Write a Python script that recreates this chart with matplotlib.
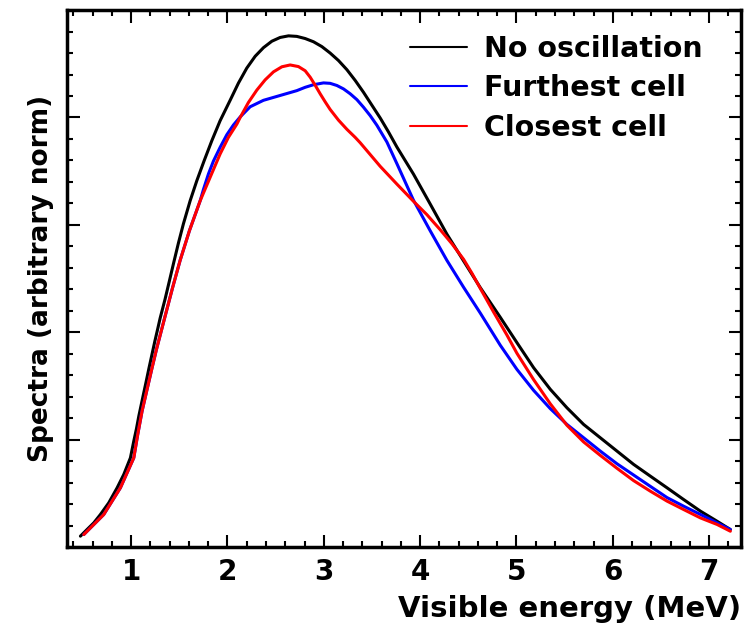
import matplotlib
matplotlib.use("Agg")
import matplotlib.pyplot as plt
from matplotlib.ticker import MultipleLocator

# energies (MeV) and spectra (arbitrary units)
x_black = [0.474, 0.543, 0.613, 0.681, 0.768, 0.855, 0.924, 0.993, 1.028, 1.055,
           1.080, 1.125, 1.156, 1.184, 1.218, 1.246, 1.277, 1.301, 1.353, 1.398,
           1.440, 1.491, 1.543, 1.613, 1.682, 1.758, 1.838, 1.924, 2.028, 2.114,
           2.201, 2.288, 2.374, 2.461, 2.547, 2.634, 2.720, 2.807, 2.893, 2.980,
           3.066, 3.153, 3.240, 3.326, 3.412, 3.499, 3.586, 3.672, 3.759, 3.931,
           4.105, 4.278, 4.451, 4.624, 4.832, 5.005, 5.178, 5.351, 5.524, 5.697,
           5.870, 6.043, 6.216, 6.389, 6.563, 6.735, 6.909, 7.082, 7.220]
y_black = [0.103, 0.165, 0.227, 0.304, 0.413, 0.553, 0.677, 0.832, 0.988, 1.100,
           1.220, 1.410, 1.540, 1.660, 1.800, 1.915, 2.035, 2.130, 2.310, 2.480,
           2.640, 2.830, 3.010, 3.225, 3.411, 3.597, 3.784, 3.970, 4.160, 4.320,
           4.460, 4.570, 4.650, 4.710, 4.745, 4.760, 4.755, 4.735, 4.705, 4.660,
           4.600, 4.530, 4.445, 4.345, 4.235, 4.115, 3.995, 3.865, 3.725, 3.473,
           3.194, 2.914, 2.665, 2.417, 2.140, 1.904, 1.671, 1.470, 1.298, 1.143,
           1.019, 0.895, 0.771, 0.662, 0.553, 0.444, 0.336, 0.242, 0.165]

x_red = [0.509, 0.716, 0.889, 1.028, 1.069, 1.114, 1.166, 1.218, 1.263, 1.353,
         1.429, 1.509, 1.605, 1.717, 1.820, 1.924, 2.010, 2.098, 2.132, 2.218,
         2.305, 2.391, 2.478, 2.565, 2.651, 2.737, 2.807, 2.859, 2.911, 2.963,
         3.015, 3.066, 3.153, 3.240, 3.326, 3.378, 3.586, 3.759, 3.931, 4.071,
         4.209, 4.330, 4.451, 4.538, 4.624, 4.762, 4.901, 5.005, 5.178, 5.351,
         5.524, 5.697, 5.870, 6.043, 6.216, 6.389, 6.563, 6.735, 6.909, 7.082,
         7.220]
y_red = [0.118, 0.304, 0.553, 0.832, 1.050, 1.267, 1.470, 1.671, 1.840, 2.150,
         2.410, 2.670, 2.945, 3.225, 3.442, 3.660, 3.815, 3.939, 4.000, 4.140,
         4.255, 4.350, 4.425, 4.472, 4.489, 4.474, 4.435, 4.375, 4.300, 4.220,
         4.145, 4.075, 3.975, 3.890, 3.815, 3.765, 3.545, 3.380, 3.220, 3.095,
         2.955, 2.825, 2.680, 2.550, 2.410, 2.190, 1.975, 1.805, 1.560, 1.335,
         1.135, 0.980, 0.855, 0.735, 0.620, 0.522, 0.429, 0.351, 0.273, 0.212,
         0.149]

x_blue = [0.509, 0.716, 0.889, 1.028, 1.069, 1.114, 1.166, 1.218, 1.263, 1.353,
          1.429, 1.509, 1.605, 1.717, 1.751, 1.803, 1.855, 1.924, 1.994, 2.062,
          2.132, 2.236, 2.374, 2.547, 2.720, 2.807, 2.893, 2.997, 3.066, 3.136,
          3.205, 3.274, 3.344, 3.412, 3.482, 3.551, 3.655, 3.759, 3.931, 4.105,
          4.278, 4.451, 4.624, 4.728, 4.832, 5.005, 5.178, 5.351, 5.524, 5.697,
          5.870, 6.043, 6.216, 6.389, 6.563, 6.735, 6.909, 7.082, 7.220]
y_blue = [0.118, 0.304, 0.553, 0.832, 1.050, 1.267, 1.470, 1.671, 1.840, 2.150,
          2.410, 2.670, 2.945, 3.225, 3.330, 3.475, 3.595, 3.722, 3.840, 3.930,
          4.005, 4.100, 4.160, 4.205, 4.250, 4.281, 4.305, 4.322, 4.318, 4.298,
          4.266, 4.221, 4.166, 4.096, 4.017, 3.928, 3.772, 3.570, 3.230, 2.945,
          2.670, 2.420, 2.180, 2.030, 1.880, 1.655, 1.460, 1.290, 1.143, 1.019,
          0.895, 0.777, 0.672, 0.567, 0.462, 0.382, 0.305, 0.227, 0.165]

labels = ["No oscillation", "Furthest cell", "Closest cell"]

fig = plt.figure(figsize=(7.53, 6.29), dpi=100)
ax = fig.add_axes([0.089, 0.130, 0.895, 0.854])

style = dict(lw=2.2, solid_joinstyle="round", solid_capstyle="round")
ax.plot(x_black, y_black, color="black", label=labels[0], **style)
ax.plot(x_blue, y_blue, color="blue", label=labels[1], **style)
ax.plot(x_red, y_red, color="red", label=labels[2], **style)

ax.set_xlim(0.335, 7.33)
ax.set_ylim(0, 5)
ax.xaxis.set_major_locator(MultipleLocator(1))
ax.xaxis.set_minor_locator(MultipleLocator(0.2))
ax.yaxis.set_major_locator(MultipleLocator(1))
ax.yaxis.set_minor_locator(MultipleLocator(0.2))
ax.set_yticklabels([])

ax.tick_params(which="both", direction="in", top=True, right=True, width=1.5)
ax.tick_params(which="major", length=9)
ax.tick_params(which="minor", length=4.5)
ax.tick_params(axis="x", labelsize=20, pad=8)
for t in ax.get_xticklabels():
    t.set_fontweight("bold")
for s in ax.spines.values():
    s.set_linewidth(2.5)

ax.set_xlabel("Visible energy (MeV)", fontsize=21, fontweight="bold", loc="right", labelpad=6)
ax.set_ylabel("Spectra (arbitrary norm)", fontsize=19, fontweight="bold", labelpad=6)

leg = ax.legend(loc="upper right", bbox_to_anchor=(0.96, 0.975), frameon=False,
                prop={"size": 20.5, "weight": "bold"}, handlelength=2.0,
                handletextpad=0.6, labelspacing=0.4, borderaxespad=0.0)
for h in leg.get_lines():
    h.set_linewidth(1.5)

fig.savefig("out.png", dpi=100)
